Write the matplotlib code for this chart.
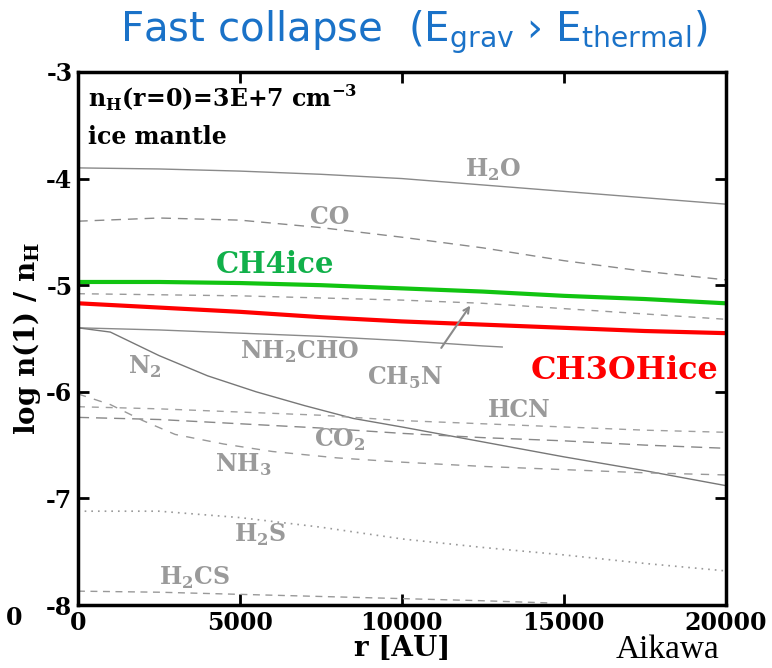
import numpy as np
import matplotlib
matplotlib.use("Agg")
import matplotlib.pyplot as plt

plt.rcParams['font.family'] = 'DejaVu Serif'
plt.rcParams['mathtext.fontset'] = 'custom'
plt.rcParams['mathtext.rm'] = 'DejaVu Serif:bold'
plt.rcParams['mathtext.bf'] = 'DejaVu Serif:bold'

# radius grid [AU]
r_std = [0, 2500, 5000, 7500, 10000, 12500, 15000, 17500, 20000]

h2o = [-3.90, -3.91, -3.93, -3.96, -4.00, -4.06, -4.12, -4.18, -4.24]
co = [-4.40, -4.37, -4.39, -4.46, -4.55, -4.65, -4.77, -4.87, -4.95]
ch4ice = [-4.97, -4.97, -4.98, -5.00, -5.03, -5.06, -5.10, -5.13, -5.17]
ch5n = [-5.08, -5.09, -5.10, -5.12, -5.14, -5.17, -5.22, -5.27, -5.32]
ch3ohice = [-5.17, -5.21, -5.25, -5.30, -5.34, -5.37, -5.40, -5.43, -5.45]
hcn = [-6.14, -6.16, -6.19, -6.22, -6.27, -6.30, -6.33, -6.36, -6.38]
co2 = [-6.24, -6.26, -6.30, -6.34, -6.39, -6.43, -6.46, -6.50, -6.53]
h2s = [-7.12, -7.12, -7.18, -7.27, -7.38, -7.46, -7.53, -7.61, -7.68]

r_nh2cho = [0, 2500, 5000, 7500, 10000, 12500, 13100]
nh2cho = [-5.40, -5.42, -5.45, -5.48, -5.52, -5.57, -5.58]

r_n2 = [0, 1000, 2500, 4000, 5500, 7000, 8500, 10000, 12500, 15000, 17500, 20000]
n2 = [-5.40, -5.44, -5.66, -5.85, -6.00, -6.13, -6.25, -6.33, -6.47, -6.61, -6.74, -6.88]

r_nh3 = [0, 1000, 2000, 3000, 4500, 6000, 8000, 10000, 12500, 15000, 17500, 20000]
nh3 = [-6.02, -6.12, -6.27, -6.40, -6.49, -6.56, -6.62, -6.66, -6.70, -6.73, -6.76, -6.78]

r_h2cs = [0, 2500, 5000, 7500, 10000, 12500, 14500]
h2cs = [-7.87, -7.88, -7.90, -7.92, -7.94, -7.96, -7.98]

x_ticks = [0, 5000, 10000, 15000, 20000]
y_ticks = [-8, -7, -6, -5, -4, -3]

fig = plt.figure(figsize=(7.72, 6.68), dpi=100)
ax = fig.add_axes([0.101, 0.0943, 0.839, 0.798])

gray = '#9a9a9a'
ax.plot(r_std, h2o, color='#8a8a8a', lw=1.0)
ax.plot(r_std, co, color='#8a8a8a', lw=1.0, ls=(0, (7, 5)))
ax.plot(r_std, ch5n, color='#9a9a9a', lw=1.0, ls=(0, (5, 5)))
ax.plot(r_nh2cho, nh2cho, color='#8a8a8a', lw=1.0)
ax.plot(r_n2, n2, color='#777777', lw=1.0)
ax.plot(r_std, hcn, color='#a0a0a0', lw=1.0, ls=(0, (5, 5)))
ax.plot(r_std, co2, color='#888888', lw=1.0, ls=(0, (8, 5)))
ax.plot(r_nh3, nh3, color='#999999', lw=1.0, ls=(0, (6, 6)))
ax.plot(r_std, h2s, color='#999999', lw=1.2, ls=(0, (1, 3)))
ax.plot(r_h2cs, h2cs, color='#999999', lw=1.0, ls=(0, (5, 4)))

ax.plot(r_std, ch4ice, color='#11c411', lw=3.0)
ax.plot(r_std, ch3ohice, color='#ff0000', lw=3.0)

ax.set_xlim(0, 20000)
ax.set_ylim(-8, -3)
ax.set_xticks(x_ticks)
ax.set_yticks(y_ticks)
ax.set_yticklabels([str(v) for v in y_ticks])
ax.tick_params(direction='in', length=8, width=2, top=True, right=True,
               labelsize=17, pad=4)
for t in ax.get_xticklabels() + ax.get_yticklabels():
    t.set_fontweight('bold')
for sp in ax.spines.values():
    sp.set_linewidth(2.5)

ax.set_xlabel('r [AU]', fontsize=20, fontweight='bold', labelpad=0)
ax.set_ylabel('log n(1) / n$_\\mathbf{H}$', fontsize=20, fontweight='bold')
ax.yaxis.set_label_coords(-0.054, 0.5)

lab = dict(color=gray, fontsize=17, fontweight='bold', ha='center', va='center')
ax.text(12810, -3.92, 'H$_\\mathbf{2}$O', **lab)
ax.text(7780, -4.36, 'CO', **lab)
ax.text(2070, -5.77, 'N$_\\mathbf{2}$', **lab)
ax.text(6850, -5.63, 'NH$_\\mathbf{2}$CHO', **lab)
ax.text(10090, -5.87, 'CH$_\\mathbf{5}$N', **lab)
ax.text(13640, -6.17, 'HCN', **lab)
ax.text(8090, -6.45, 'CO$_\\mathbf{2}$', **lab)
ax.text(5090, -6.69, 'NH$_\\mathbf{3}$', **lab)
ax.text(5620, -7.34, 'H$_\\mathbf{2}$S', **lab)
ax.text(3610, -7.75, 'H$_\\mathbf{2}$CS', **lab)
ax.annotate('', xy=(12160, -5.17), xytext=(11170, -5.61),
            arrowprops=dict(arrowstyle='->', color='#8a8a8a', lw=1.5))

ax.text(6080, -4.81, 'CH4ice', color='#11b04a', fontsize=21, fontweight='bold',
        ha='center', va='center')
ax.text(16880, -5.80, 'CH3OHice', color='#ff0000', fontsize=23, fontweight='bold',
        ha='center', va='center')

ax.text(300, -3.24, 'n$_\\mathbf{H}$(r=0)=3E+7 cm$^\\mathbf{-3}$', fontsize=17,
        fontweight='bold', ha='left', va='center', color='black')
ax.text(300, -3.61, 'ice mantle', fontsize=17, fontweight='bold',
        ha='left', va='center', color='black')

fig.text(0.536, 0.952, 'Fast collapse  (E$_\\mathrm{grav}$ \u203a E$_\\mathrm{thermal}$)',
         family='DejaVu Sans', weight='normal', math_fontfamily='dejavusans',
         fontsize=29, color='#1a72c8', ha='center', va='center')

fig.text(0.018, 0.075, '0', fontsize=17, fontweight='bold', ha='center', va='center')
fig.text(0.797, 0.004, 'Aikawa', family='Liberation Serif', weight='normal',
         fontsize=24, ha='left', va='bottom')

fig.savefig('out.png', dpi=100)
